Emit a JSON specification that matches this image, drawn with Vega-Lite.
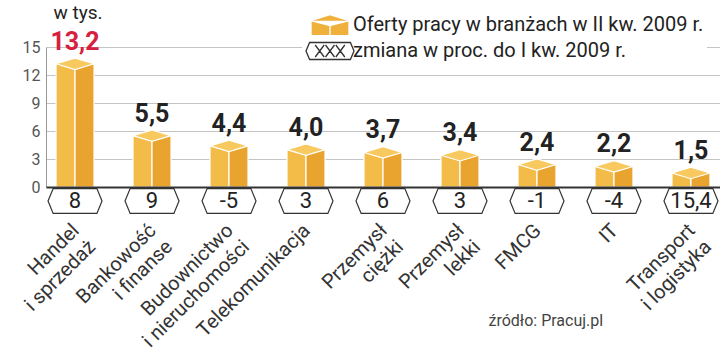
{
  "$schema": "https://vega.github.io/schema/vega-lite/v6.json",
  "width": 674,
  "height": 140,
  "autosize": "none",
  "padding": {"left": 46, "top": 47, "right": 0, "bottom": 171},
  "background": "white",
  "config": {"view": {"stroke": null}, "font": "Roboto"},
  "layer": [
    {
      "data": {
        "values": [
          {"cat": "Handel|i sprzedaż", "value": 13.2, "label": "13,2", "change": "8"},
          {"cat": "Bankowość|i finanse", "value": 5.5, "label": "5,5", "change": "9"},
          {"cat": "Budownictwo|i nieruchomości", "value": 4.4, "label": "4,4", "change": "-5"},
          {"cat": "Telekomunikacja", "value": 4.0, "label": "4,0", "change": "3"},
          {"cat": "Przemysł|ciężki", "value": 3.7, "label": "3,7", "change": "6"},
          {"cat": "Przemysł|lekki", "value": 3.4, "label": "3,4", "change": "3"},
          {"cat": "FMCG", "value": 2.4, "label": "2,4", "change": "-1"},
          {"cat": "IT", "value": 2.2, "label": "2,2", "change": "-4"},
          {"cat": "Transport|i logistyka", "value": 1.5, "label": "1,5", "change": "15,4"}
        ]
      },
      "encoding": {
        "x": {
          "field": "cat",
          "type": "nominal",
          "sort": null,
          "scale": {"type": "band", "paddingInner": 0.5, "paddingOuter": 0.127},
          "axis": {
            "title": "źródło: Pracuj.pl",
            "titleX": 442,
            "titleY": 138,
            "titleAlign": "left",
            "titleBaseline": "alphabetic",
            "titleFontSize": 16,
            "titleFontWeight": "normal",
            "titleColor": "#444",
            "labelExpr": "split(datum.label, '|')",
            "labelAngle": -45,
            "labelAlign": "right",
            "labelBaseline": "middle",
            "labelFontSize": 20,
            "labelColor": "#333",
            "labelLineHeight": 23,
            "labelPadding": 40,
            "labelOffset": 1,
            "labelOverlap": false,
            "labelBound": false,
            "labelLimit": 0,
            "ticks": false,
            "tickSize": 0,
            "domainColor": "#333",
            "domainWidth": 2,
            "grid": false,
            "zindex": 1
          }
        }
      },
      "layer": [
        {
          "mark": {"type": "bar", "width": 19, "xOffset": -9.5, "fill": "#f3bb48", "stroke": "white", "strokeWidth": 1.2},
          "encoding": {
            "y": {
              "field": "value",
              "type": "quantitative",
              "scale": {"domain": [0, 15], "nice": false},
              "axis": {
                "values": [0, 3, 6, 9, 12, 15],
                "tickCount": 10,
                "labelOverlap": false,
                "grid": true,
                "gridColor": "#c4c4c4",
                "domainColor": "#999",
                "ticks": false,
                "tickSize": 0,
                "labelPadding": 6,
                "labelFontSize": 16,
                "labelColor": "#555",
                "title": "w tys.",
                "titleAngle": 0,
                "titleX": 7,
                "titleY": -29,
                "titleAlign": "left",
                "titleBaseline": "alphabetic",
                "titleFontSize": 19,
                "titleFontWeight": "normal",
                "titleColor": "#222"
              }
            }
          }
        },
        {
          "mark": {"type": "bar", "width": 19, "xOffset": 9.5, "fill": "#e9a32f", "stroke": "white", "strokeWidth": 1.2},
          "encoding": {"y": {"field": "value", "type": "quantitative"}}
        },
        {
          "mark": {"type": "point", "shape": "M-1,0L0,-0.3L1,0L0,0.3Z", "size": 1444, "filled": true, "fill": "#f7c95e", "stroke": "white", "strokeWidth": 1.2, "opacity": 1},
          "encoding": {"y": {"field": "value", "type": "quantitative"}}
        },
        {
          "mark": {"type": "text", "dy": -14, "baseline": "alphabetic", "fontSize": 25, "fontWeight": "bold"},
          "encoding": {
            "y": {"field": "value", "type": "quantitative"},
            "text": {"field": "label"},
            "color": {"condition": {"test": "datum.cat === 'Handel|i sprzedaż'", "value": "#d5213f"}, "value": "#222"}
          }
        },
        {
          "mark": {"type": "point", "shape": "M-1,0L-0.81,-0.46L0.81,-0.46L1,0L0.81,0.46L-0.81,0.46Z", "size": 2916, "filled": true, "fill": "white", "stroke": "#333", "strokeWidth": 1.2, "opacity": 1, "yOffset": 14},
          "encoding": {"y": {"datum": 0}}
        },
        {
          "mark": {"type": "text", "yOffset": 14, "baseline": "middle", "fontSize": 22, "color": "#222"},
          "encoding": {"y": {"datum": 0}, "text": {"field": "change"}}
        }
      ]
    },
    {
      "data": {
        "values": [
          {"series": "Oferty pracy w branżach w II kw. 2009 r."},
          {"series": "zmiana w proc. do I kw. 2009 r."}
        ]
      },
      "mark": {"type": "point", "filled": true, "opacity": 1, "size": 0},
      "encoding": {
        "shape": {
          "field": "series",
          "type": "nominal",
          "scale": {
            "domain": ["Oferty pracy w branżach w II kw. 2009 r.", "zmiana w proc. do I kw. 2009 r."],
            "range": [
              "M-1.9,-0.43L0,-1.04L1.9,-0.43L1.9,1.07L-1.9,1.07ZM-1.9,-0.43L0,0.07L1.9,-0.43M0,0.07L0,1.07",
              "M-2.4,0L-2.04,-0.85L2.04,-0.85L2.4,0L2.04,0.85L-2.04,0.85ZM-1.48,-0.6L-0.58,0.6M-1.48,0.6L-0.58,-0.6M-0.45,-0.6L0.45,0.6M-0.45,0.6L0.45,-0.6M0.58,-0.6L1.48,0.6M0.58,0.6L1.48,-0.6"
            ]
          },
          "legend": {
            "title": null,
            "orient": "none",
            "legendX": 256,
            "legendY": -36,
            "direction": "vertical",
            "padding": 3,
            "fillColor": "white",
            "rowPadding": 0,
            "symbolSize": 400,
            "symbolOffset": 14,
            "symbolStrokeWidth": 1.3,
            "labelOffset": 12,
            "labelFontSize": 20,
            "labelColor": "#222",
            "labelLimit": 0
          }
        },
        "fill": {
          "field": "series",
          "type": "nominal",
          "scale": {
            "domain": ["Oferty pracy w branżach w II kw. 2009 r.", "zmiana w proc. do I kw. 2009 r."],
            "range": ["#f0b13c", "white"]
          },
          "legend": {
            "title": null,
            "orient": "none",
            "legendX": 256,
            "legendY": -36,
            "direction": "vertical",
            "padding": 3,
            "fillColor": "white",
            "rowPadding": 0,
            "symbolSize": 400,
            "symbolOffset": 14,
            "symbolStrokeWidth": 1.3,
            "labelOffset": 12,
            "labelFontSize": 20,
            "labelColor": "#222",
            "labelLimit": 0
          }
        },
        "stroke": {
          "field": "series",
          "type": "nominal",
          "scale": {
            "domain": ["Oferty pracy w branżach w II kw. 2009 r.", "zmiana w proc. do I kw. 2009 r."],
            "range": ["white", "#333"]
          },
          "legend": {
            "title": null,
            "orient": "none",
            "legendX": 256,
            "legendY": -36,
            "direction": "vertical",
            "padding": 3,
            "fillColor": "white",
            "rowPadding": 0,
            "symbolSize": 400,
            "symbolOffset": 14,
            "symbolStrokeWidth": 1.3,
            "labelOffset": 12,
            "labelFontSize": 20,
            "labelColor": "#222",
            "labelLimit": 0
          }
        }
      }
    }
  ]
}
